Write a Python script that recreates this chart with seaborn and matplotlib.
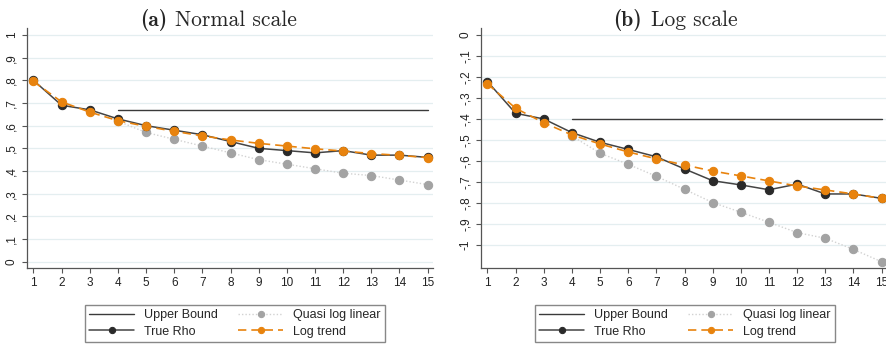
import numpy as np
import pandas as pd
import matplotlib
matplotlib.use("Agg")
import matplotlib.pyplot as plt
import seaborn as sns

# ---------------- data ----------------
periods = list(range(1, 16))
bound_x = [4, 15]

# panel (a) normal scale
upper_a = [0.67, 0.67]
rho_a = [0.80, 0.69, 0.67, 0.63, 0.60, 0.58, 0.56, 0.53, 0.50, 0.49, 0.48, 0.49, 0.47, 0.47, 0.46]
quasi_a = [np.nan, np.nan, np.nan, 0.62, 0.57, 0.54, 0.51, 0.48, 0.45, 0.43, 0.41, 0.39, 0.38, 0.36, 0.34]
trend_a = [0.795, 0.705, 0.66, 0.622, 0.597, 0.575, 0.555, 0.537, 0.522, 0.51, 0.498, 0.488, 0.477, 0.469, 0.459]

# panel (b) log scale
upper_b = [-0.40, -0.40]
rho_b = [-0.222, -0.373, -0.40, -0.465, -0.511, -0.545, -0.58, -0.638, -0.694, -0.714, -0.737, -0.71, -0.757, -0.757, -0.778]
quasi_b = [np.nan, np.nan, np.nan, -0.481, -0.563, -0.616, -0.673, -0.735, -0.798, -0.844, -0.892, -0.941, -0.968, -1.021, -1.08]
trend_b = [-0.233, -0.349, -0.418, -0.476, -0.519, -0.557, -0.59, -0.619, -0.648, -0.671, -0.695, -0.719, -0.738, -0.757, -0.778]

ticks_a = [0, 0.1, 0.2, 0.3, 0.4, 0.5, 0.6, 0.7, 0.8, 0.9, 1.0]
ticklabels_a = ["0", ",1", ",2", ",3", ",4", ",5", ",6", ",7", ",8", ",9", "1"]
ticks_b = [0, -0.1, -0.2, -0.3, -0.4, -0.5, -0.6, -0.7, -0.8, -0.9, -1.0]
ticklabels_b = ["0", "-,1", "-,2", "-,3", "-,4", "-,5", "-,6", "-,7", "-,8", "-,9", "-1"]

title_tags = ["(a)", "(b)"]
title_texts = ["Normal scale", "Log scale"]
labels = ["Upper Bound", "True Rho", "Quasi log linear", "Log trend"]

# ---------------- style ----------------
sns.set_theme(style="white")
plt.rcParams["font.family"] = ["Liberation Sans", "DejaVu Sans"]

W, H = 887, 347
fig = plt.figure(figsize=(W / 100, H / 100), dpi=100)

def box(l, t, r, b):
    return [l / W, 1 - b / H, (r - l) / W, (b - t) / H]

ax_a = fig.add_axes(box(26.7, 28, 433, 268))
ax_b = fig.add_axes(box(480.7, 28, 887, 267.7))

C_BOUND = "#3a3a3a"
C_RHO = "#2a2a2a"
C_QUASI = "#a3a3a3"
C_QUASI_LINE = "#d2d2d2"
C_TREND = "#e8830e"
MS = 6

def draw(ax, upper, rho, quasi, trend, ticks, ticklabels, ylim):
    for t in ticks:
        ax.axhline(t, color="#e4eef0", lw=0.9, zorder=0)
    sns.lineplot(x=bound_x, y=upper, ax=ax, color=C_BOUND, lw=1.0,
                 label=labels[0], estimator=None, sort=False, zorder=2)
    sns.lineplot(x=periods, y=quasi, ax=ax, color=C_QUASI_LINE, lw=1.0,
                 linestyle=(0, (1, 1.5)), marker="o", markersize=MS,
                 markerfacecolor=C_QUASI, markeredgecolor=C_QUASI,
                 label=labels[2], estimator=None, sort=False, zorder=3)
    sns.lineplot(x=periods, y=rho, ax=ax, color="#444444", lw=1.1,
                 marker="o", markersize=MS, markerfacecolor=C_RHO,
                 markeredgecolor=C_RHO, label=labels[1],
                 estimator=None, sort=False, zorder=4)
    sns.lineplot(x=periods, y=trend, ax=ax, color=C_TREND, lw=1.2,
                 linestyle=(0, (5, 3)), marker="o", markersize=MS,
                 markerfacecolor=C_TREND, markeredgecolor=C_TREND,
                 label=labels[3], estimator=None, sort=False, zorder=5)
    ax.set_xlim(0.76, 15.19)
    ax.set_ylim(*ylim)
    ax.set_xticks(periods)
    ax.set_xticklabels([str(p) for p in periods], fontsize=8.5)
    ax.set_yticks(ticks)
    ax.set_yticklabels(ticklabels, fontsize=8.5, rotation=90, va="center")
    ax.tick_params(axis="both", direction="out", length=3.5, width=0.8,
                   color="#555555", labelcolor="#222222", pad=3,
                   left=True, bottom=True)
    for s in ["top", "right"]:
        ax.spines[s].set_visible(False)
    for s in ["left", "bottom"]:
        ax.spines[s].set_color("#555555")
        ax.spines[s].set_linewidth(0.9)
    ax.set_xlabel("")
    ax.set_ylabel("")
    h, l = ax.get_legend_handles_labels()
    ax.get_legend().remove()
    return h, l

ha, la = draw(ax_a, upper_a, rho_a, quasi_a, trend_a, ticks_a, ticklabels_a, (-0.028, 1.031))
hb, lb = draw(ax_b, upper_b, rho_b, quasi_b, trend_b, ticks_b, ticklabels_b, (-1.108, 0.033))

# titles: bold tag + regular text (Computer Modern)
for tag, txt, xr, xl in [(title_tags[0], title_texts[0], 167, 175),
                         (title_tags[1], title_texts[1], 642, 651)]:
    fig.text(xr / W, 1 - 26 / H, tag, ha="right", va="baseline",
             fontsize=15.5, family="cmb10")
    fig.text(xl / W, 1 - 26 / H, txt, ha="left", va="baseline",
             fontsize=15.5, family="cmr10")

order = [labels[0], labels[1], labels[2], labels[3]]
for h, l, x0 in [(ha, la, 85), (hb, lb, 535)]:
    d = dict(zip(l, h))
    leg = fig.legend([d[k] for k in order], order, loc="upper left",
                     bbox_to_anchor=(x0 / W, 1 - 305 / H), ncol=2,
                     frameon=True, fancybox=False, fontsize=9,
                     handlelength=3.6, handletextpad=0.8, columnspacing=1.6,
                     borderaxespad=0, borderpad=0.35, labelspacing=0.35,
                     markerscale=0.75)
    fr = leg.get_frame()
    fr.set_edgecolor("#888888")
    fr.set_linewidth(1.0)
    fr.set_alpha(1)

fig.savefig("out.png", dpi=100)
